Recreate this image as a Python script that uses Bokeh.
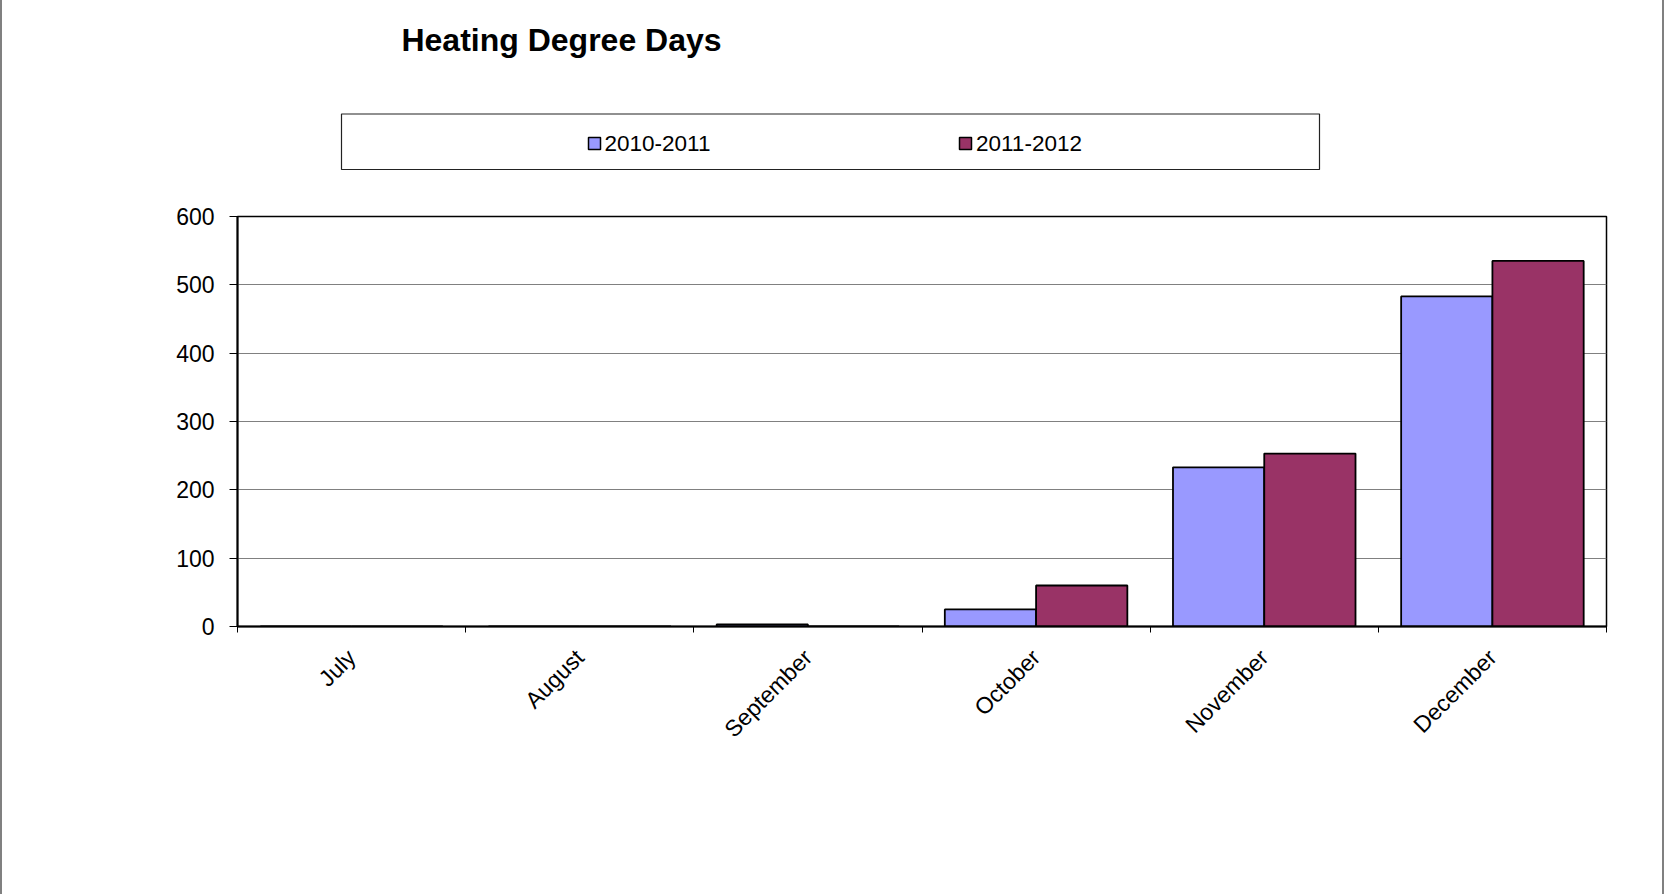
from math import pi
from bokeh.plotting import figure
from bokeh.layouts import column
from bokeh.models import ColumnDataSource, Range1d, FixedTicker
from bokeh.core.properties import value
from bokeh.transform import dodge
from bokeh.embed import file_html
from bokeh.resources import INLINE

# ---------------- data ----------------
months = ["July", "August", "September", "October", "November", "December"]
hdd_2010_2011 = [0, 0, 3, 25, 233, 483]
hdd_2011_2012 = [0, 0, 0, 60, 253, 535]
series_names = ["2010-2011", "2011-2012"]
series_colors = ["#9999FF", "#993366"]
y_ticks = [0, 100, 200, 300, 400, 500, 600]
title_text = "Heating Degree Days"

# ---------------- layout constants (page pixels) ----------------
FONT = "Liberation Sans"
BORDER = 2                 # grey page border (css) on left and right
FW = 1660                  # width of each figure
HEAD_H = 200               # height of the header figure (title + legend)
MAIN_H = 694               # height of the chart figure
FRAME_L, FRAME_R, FRAME_T, FRAME_B = 237, 1606, 216, 626
Y_MAX = 600
N = len(months)

fl = FRAME_L - BORDER
fr = FRAME_R - BORDER
ft = FRAME_T - HEAD_H
fb = FRAME_B - HEAD_H

# ---------------- header: title + legend ----------------
# (the column aligns this figure's frame with the chart frame, so its x range
#  is expressed in page pixels over the frame's horizontal extent)
head = figure(width=FW, height=HEAD_H, x_range=Range1d(FRAME_L, FRAME_R),
              y_range=Range1d(HEAD_H, 0),
              x_axis_type=None, y_axis_type=None, output_backend="svg",
              toolbar_location=None, min_border=0,
              min_border_left=fl, min_border_right=FW - fr)
head.outline_line_color = None
head.grid.visible = False
head.background_fill_color = "white"
head.border_fill_color = "white"

head.text(x=[561], y=[39], text=[title_text], text_font=value(FONT),
          text_font_size=value("32px"), text_font_style="bold",
          text_align="center", text_baseline="middle", text_color="black")

head.quad(left=[341], right=[1319], top=[113.5], bottom=[169],
          fill_color="white", line_color="#222222", line_width=1.2)

sw_left = [588, 959]
txt_left = [604, 975.5]
head.quad(left=sw_left, right=[v + 12 for v in sw_left], top=[137] * 2, bottom=[149] * 2,
          fill_color=series_colors, line_color="black", line_width=1.5)
head.text(x=txt_left, y=[143] * 2, text=series_names, text_font=value(FONT),
          text_font_size=value("22.5px"), text_align="left", text_baseline="middle",
          text_color="black")

# ---------------- main chart ----------------
src = ColumnDataSource(dict(pos=[i + 0.5 for i in range(N)],
                            a=hdd_2010_2011, b=hdd_2011_2012))

p = figure(width=FW, height=MAIN_H, x_range=Range1d(0, N), y_range=Range1d(0, Y_MAX),
           output_backend="svg", toolbar_location=None, title=None,
           min_border_left=fl, min_border_right=FW - fr,
           min_border_top=ft, min_border_bottom=MAIN_H - fb)
p.background_fill_color = "white"
p.border_fill_color = "white"
p.outline_line_color = "black"
p.outline_line_width = 1.5

p.vbar(x=dodge("pos", -0.2, range=p.x_range), top="a", width=0.4, source=src,
       fill_color=series_colors[0], line_color="black", line_width=1.8)
p.vbar(x=dodge("pos", 0.2, range=p.x_range), top="b", width=0.4, source=src,
       fill_color=series_colors[1], line_color="black", line_width=1.8)

xa = p.xaxis[0]
xa.ticker = FixedTicker(ticks=[i + 0.5 for i in range(N)], minor_ticks=list(range(N + 1)))
xa.major_label_overrides = {i + 0.5: m for i, m in enumerate(months)}
xa.major_tick_line_color = None
xa.major_tick_out = 0
xa.major_tick_in = 0
xa.minor_tick_line_color = "black"
xa.minor_tick_out = 6
xa.minor_tick_in = 0
xa.minor_tick_line_width = 1
xa.major_label_orientation = pi / 4
xa.major_label_standoff = 21
xa.major_label_text_font = FONT
xa.major_label_text_font_size = "23px"
xa.major_label_text_color = "black"
xa.axis_line_width = 2
xa.axis_line_color = "black"

ya = p.yaxis[0]
ya.ticker = FixedTicker(ticks=y_ticks, minor_ticks=[])
ya.major_tick_out = 8
ya.major_tick_in = 0
ya.major_tick_line_color = "black"
ya.minor_tick_line_color = None
ya.major_label_standoff = 15
ya.major_label_text_font = FONT
ya.major_label_text_font_size = "23px"
ya.major_label_text_color = "black"
ya.axis_line_width = 2
ya.axis_line_color = "black"

p.xgrid.visible = False
p.ygrid.ticker = FixedTicker(ticks=y_ticks)
p.ygrid.grid_line_color = "#808080"
p.ygrid.grid_line_width = 1.2

layout = column(head, p, spacing=0,
                styles={"border-left": f"{BORDER}px solid #808080",
                        "border-right": f"{BORDER}px solid #808080",
                        "background-color": "white"})

open("out.html", "w").write(file_html(layout, INLINE))
